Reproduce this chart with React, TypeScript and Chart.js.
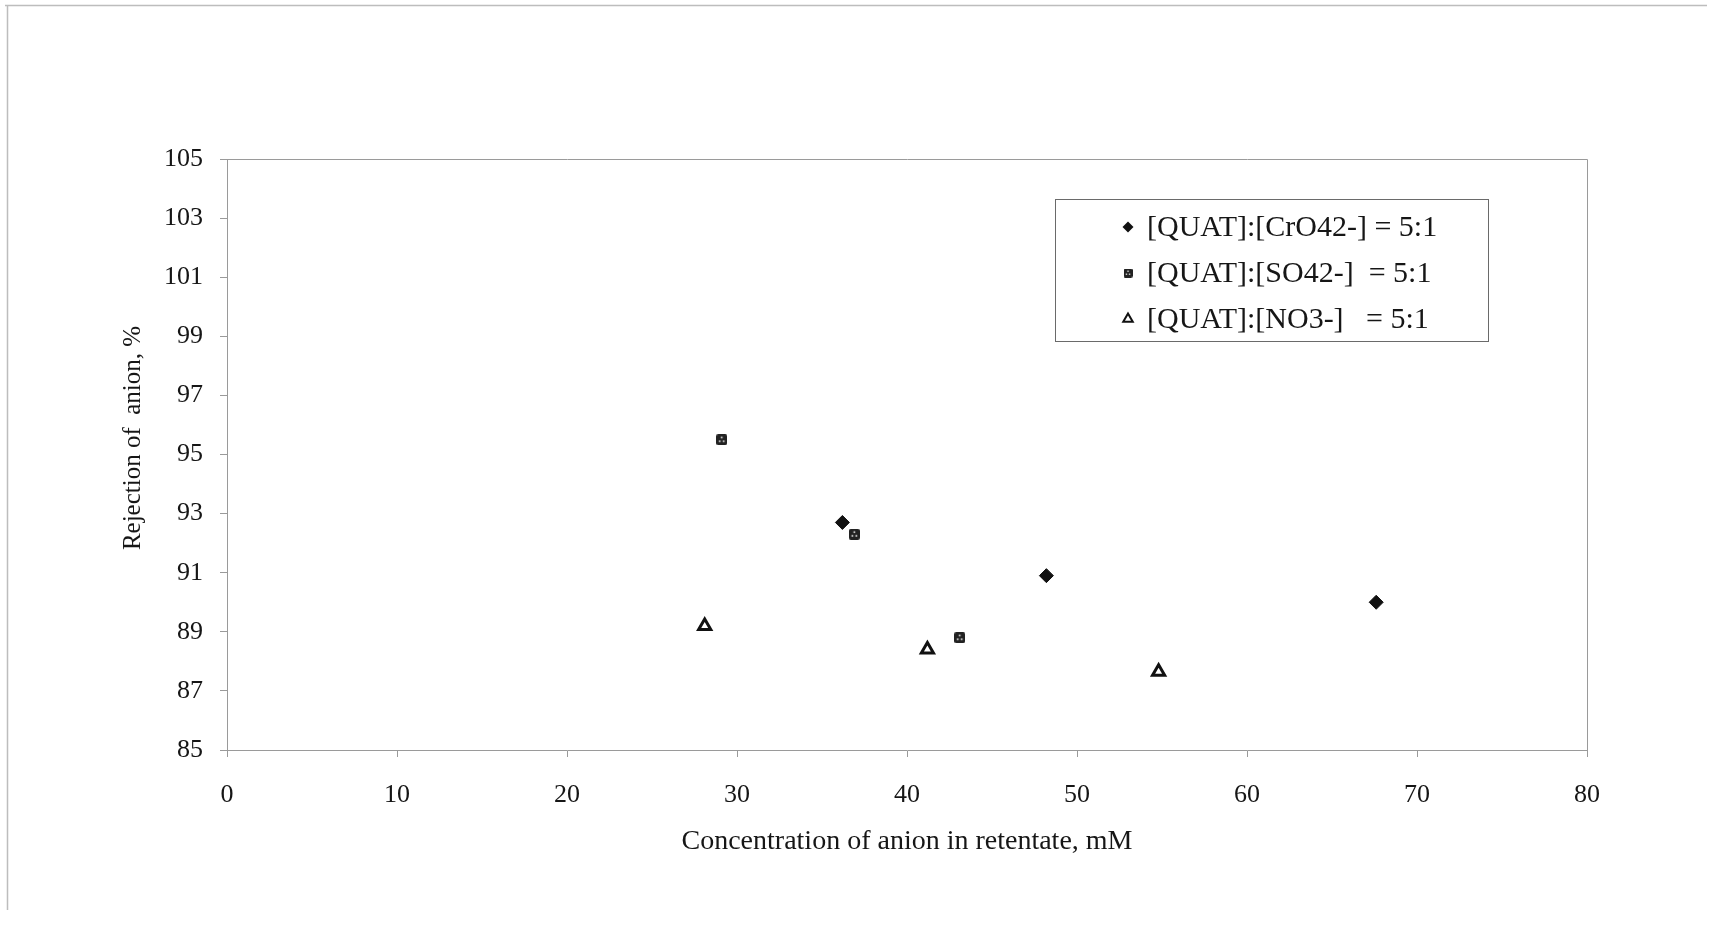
import React, { useEffect, useRef } from 'react';
import { Chart, registerables } from 'chart.js';

Chart.register(...registerables);

// ---- data ----
const seriesLabels = [
  '[QUAT]:[CrO42-] = 5:1',
  '[QUAT]:[SO42-]  = 5:1',
  '[QUAT]:[NO3-]   = 5:1',
];
const cro4X = [36.2, 48.2, 67.6];
const cro4Y = [92.7, 90.9, 90.0];
const so4X = [29.1, 36.9, 43.1];
const so4Y = [95.5, 92.3, 88.8];
const no3X = [28.1, 41.2, 54.8];
const no3Y = [89.2, 88.4, 87.65];
const xTicks = [0, 10, 20, 30, 40, 50, 60, 70, 80];
const yTicks = [85, 87, 89, 91, 93, 95, 97, 99, 101, 103, 105];
const xTitle = 'Concentration of anion in retentate, mM';
const yTitle = 'Rejection of  anion, %';

const FONT = "'Liberation Serif', 'Times New Roman', serif";
const INK = '#161616';
const AXIS = '#9a9a9a';

function makeSquareMarker(size: number): HTMLCanvasElement {
  const c = document.createElement('canvas');
  c.width = size;
  c.height = size;
  const g = c.getContext('2d')!;
  g.fillStyle = '#222222';
  const r = 2;
  g.beginPath();
  g.moveTo(r, 0);
  g.lineTo(size - r, 0);
  g.quadraticCurveTo(size, 0, size, r);
  g.lineTo(size, size - r);
  g.quadraticCurveTo(size, size, size - r, size);
  g.lineTo(r, size);
  g.quadraticCurveTo(0, size, 0, size - r);
  g.lineTo(0, r);
  g.quadraticCurveTo(0, 0, r, 0);
  g.fill();
  g.fillStyle = '#ffffff';
  const d = Math.max(1, size / 7);
  g.fillRect(size / 2 - d / 2, size * 0.3 - d / 2, d, d);
  g.fillRect(size * 0.32 - d / 2, size * 0.64 - d / 2, d, d);
  g.fillRect(size * 0.68 - d / 2, size * 0.64 - d / 2, d, d);
  return c;
}

const pts = (xs: number[], ys: number[]) => xs.map((x, i) => ({ x, y: ys[i] }));

const framePlugin = {
  id: 'frameAndLegend',
  beforeDraw(chart: any) {
    const { ctx } = chart;
    ctx.save();
    ctx.fillStyle = '#ffffff';
    ctx.fillRect(0, 0, chart.width, chart.height);
    ctx.strokeStyle = '#bdbdbd';
    ctx.lineWidth = 1.5;
    ctx.beginPath();
    ctx.moveTo(5, 5.5);
    ctx.lineTo(1707, 5.5);
    ctx.moveTo(7.5, 5);
    ctx.lineTo(7.5, 910);
    ctx.stroke();
    ctx.restore();
  },
  afterDraw(chart: any) {
    const { ctx, chartArea } = chart;
    ctx.save();
    // plot border top and right
    ctx.strokeStyle = AXIS;
    ctx.lineWidth = 1;
    ctx.beginPath();
    ctx.moveTo(Math.round(chartArea.left) + 0.5, Math.round(chartArea.top) + 0.5);
    ctx.lineTo(Math.round(chartArea.right) + 0.5, Math.round(chartArea.top) + 0.5);
    ctx.lineTo(Math.round(chartArea.right) + 0.5, Math.round(chartArea.bottom) + 0.5);
    ctx.stroke();

    // y axis title
    ctx.fillStyle = INK;
    ctx.font = `25px ${FONT}`;
    ctx.textAlign = 'center';
    ctx.textBaseline = 'middle';
    ctx.translate(133, 438);
    ctx.rotate(-Math.PI / 2);
    ctx.fillText(yTitle, 0, 0);
    ctx.setTransform(1, 0, 0, 1, 0, 0);

    // legend
    const bx = 1055, by = 199, bw = 433, bh = 142;
    ctx.fillStyle = '#ffffff';
    ctx.fillRect(bx, by, bw, bh);
    ctx.strokeStyle = '#6a6a6a';
    ctx.lineWidth = 1;
    ctx.strokeRect(bx + 0.5, by + 0.5, bw, bh);
    const rows = [227, 273, 319];
    const mx = 1128;
    chart.data.datasets.forEach((ds: any, i: number) => {
      const y = rows[i];
      if (i === 0) {
        ctx.fillStyle = '#111';
        ctx.beginPath();
        ctx.moveTo(mx - 5.5, y);
        ctx.lineTo(mx, y - 5.5);
        ctx.lineTo(mx + 5.5, y);
        ctx.lineTo(mx, y + 5.5);
        ctx.closePath();
        ctx.fill();
      } else if (i === 1) {
        const img = ds.pointStyle as HTMLCanvasElement;
        ctx.drawImage(img, mx - 4.5, y - 4.5, 9, 9);
      } else {
        const r = 5.5;
        ctx.strokeStyle = '#111';
        ctx.lineWidth = 2;
        ctx.fillStyle = '#fff';
        ctx.beginPath();
        ctx.moveTo(mx, y - r);
        ctx.lineTo(mx + Math.sin((2 * Math.PI) / 3) * r, y - Math.cos((2 * Math.PI) / 3) * r);
        ctx.lineTo(mx + Math.sin((4 * Math.PI) / 3) * r, y - Math.cos((4 * Math.PI) / 3) * r);
        ctx.closePath();
        ctx.fill();
        ctx.stroke();
      }
      ctx.fillStyle = INK;
      ctx.font = `30px ${FONT}`;
      ctx.textAlign = 'left';
      ctx.textBaseline = 'middle';
      ctx.fillText(ds.label, 1147, y + 1);
    });
    ctx.restore();
  },
};

export default function App() {
  const ref = useRef<HTMLCanvasElement | null>(null);

  useEffect(() => {
    if (!ref.current) return;
    const sq = makeSquareMarker(11);
    const chart = new Chart(ref.current, {
      type: 'scatter',
      data: {
        datasets: [
          {
            label: seriesLabels[0],
            data: pts(cro4X, cro4Y),
            pointStyle: 'rectRot',
            pointRadius: 7,
            pointBackgroundColor: '#111',
            pointBorderColor: '#111',
            pointBorderWidth: 1,
          },
          {
            label: seriesLabels[1],
            data: pts(so4X, so4Y),
            pointStyle: sq as any,
            pointRadius: 6,
            pointBackgroundColor: '#111',
            pointBorderColor: '#111',
          },
          {
            label: seriesLabels[2],
            data: pts(no3X, no3Y),
            pointStyle: 'triangle',
            pointRadius: 7,
            pointBackgroundColor: '#ffffff',
            pointBorderColor: '#111',
            pointBorderWidth: 3,
          },
        ],
      },
      options: {
        responsive: false,
        animation: false,
        events: [],
        layout: { padding: { left: 113, top: 159, right: 133, bottom: 67 } },
        plugins: {
          legend: { display: false },
          tooltip: { enabled: false },
        },
        scales: {
          x: {
            type: 'linear',
            position: 'bottom',
            min: 0,
            max: 80,
            afterBuildTicks: (s: any) => {
              s.ticks = xTicks.map((v) => ({ value: v }));
            },
            afterFit: (s: any) => {
              s.height = 112;
            },
            grid: {
              display: true,
              drawOnChartArea: false,
              drawTicks: true,
              tickLength: 7,
              color: AXIS,
              lineWidth: 1,
            },
            border: { display: true, color: AXIS, width: 1 },
            ticks: {
              padding: 23,
              color: INK,
              font: { family: FONT, size: 26 },
              maxRotation: 0,
            },
            title: {
              display: true,
              text: xTitle,
              color: INK,
              font: { family: FONT, size: 28 },
              padding: { top: 4, bottom: 4 },
            },
          },
          y: {
            type: 'linear',
            position: 'left',
            min: 85,
            max: 105,
            afterBuildTicks: (s: any) => {
              s.ticks = yTicks.map((v) => ({ value: v }));
            },
            afterFit: (s: any) => {
              s.width = 114;
            },
            grid: {
              display: true,
              drawOnChartArea: false,
              drawTicks: true,
              tickLength: 7,
              color: AXIS,
              lineWidth: 1,
            },
            border: { display: true, color: AXIS, width: 1 },
            ticks: {
              padding: 17,
              color: INK,
              font: { family: FONT, size: 26 },
            },
            title: { display: false },
          },
        },
      },
      plugins: [framePlugin],
    });
    return () => chart.destroy();
  }, []);

  return (
    <div style={{ position: 'absolute', left: 0, top: 0, width: 1720, height: 929 }}>
      <canvas ref={ref} width={1720} height={929} style={{ display: 'block', width: 1720, height: 929 }} />
    </div>
  );
}
